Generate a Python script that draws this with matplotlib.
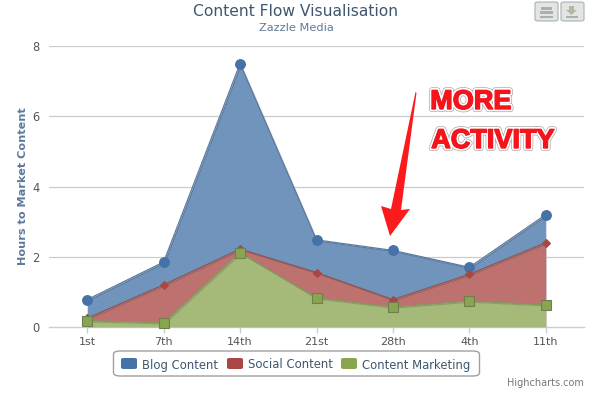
import matplotlib
matplotlib.use("Agg")
import matplotlib.pyplot as plt
import matplotlib.patheffects as pe
from matplotlib.patches import FancyBboxPatch, Polygon, Rectangle

categories = ["1st", "7th", "14th", "21st", "28th", "4th", "11th"]
blog = [0.78, 1.85, 7.5, 2.48, 2.18, 1.70, 3.2]
social = [0.25, 1.2, 2.22, 1.55, 0.78, 1.5, 2.4]
content = [0.18, 0.12, 2.12, 0.83, 0.57, 0.74, 0.63]
series_names = ["Blog Content", "Social Content", "Content Marketing"]
yticks = [0, 2, 4, 6, 8]

W, H = 593, 393
plt.rcParams["font.family"] = ["DejaVu Sans"]
fig = plt.figure(figsize=(W / 100, H / 100), dpi=100, facecolor="white")
L, R, T, B = 49, 584, 46, 327
ax = fig.add_axes([L / W, 1 - B / H, (R - L) / W, (B - T) / H])
ax.set_xlim(-0.5, 6.5)
ax.set_ylim(0, 8)
x = list(range(len(categories)))

for v in yticks[1:]:
    ax.axhline(v, color="#cccccc", lw=0.9, zorder=1)

styles = [
    (blog, "#4572A7", "#5d7a9e", "o", 7),
    (social, "#AA4643", "#8c5452", "D", 4.5),
    (content, "#89A54E", "#84965f", "s", 7),
]
shadow = [pe.SimpleLineShadow(offset=(0.8, -0.8), shadow_color="black", alpha=0.15), pe.Normal()]
for i, (vals, col, edge, m, ms) in enumerate(styles):
    ax.fill_between(x, 0, vals, color="white", lw=0, zorder=2 + i)
    ax.fill_between(x, 0, vals, color=col, alpha=0.76, lw=0, zorder=2 + i)
    ax.plot(x, vals, color=edge, lw=0.9, zorder=2.5 + i, path_effects=shadow)
for i, (vals, col, edge, m, ms) in enumerate(styles):
    ax.plot(x, vals, ls="none", marker=m, ms=ms, mfc=col, mec="#6f7f50" if m == "s" else col,
            mew=0.8, zorder=8 + i, clip_on=False)

for s in ["top", "left", "right"]:
    ax.spines[s].set_visible(False)
ax.spines["bottom"].set_color("#C0D0E0")
ax.spines["bottom"].set_linewidth(1.0)
ax.set_xticks(x, categories)
ax.set_yticks(yticks)
ax.tick_params(axis="x", colors="#C0D0E0", length=4, width=1, labelcolor="#555555", labelsize=8, pad=3)
ax.tick_params(axis="y", length=0, labelcolor="#555555", labelsize=8.3, pad=7)
ax.set_ylabel("Hours to Market Content", fontsize=8.1, fontweight="bold", color="#5d7a9c", labelpad=3)


def px(xp, yp):
    return xp / W, 1 - yp / H


fig.text(*px(296, 11), "Content Flow Visualisation", ha="center", va="center", fontsize=11.2, color="#3E576F")
fig.text(*px(296, 28), "Zazzle Media", ha="center", va="center", fontsize=8.2, color="#5f7a95")
fig.text(*px(584, 383), "Highcharts.com", ha="right", va="center", fontsize=7, color="#777777")

# legend box
fig.add_artist(FancyBboxPatch(px(113.5, 376), 366 / W, 25 / H, boxstyle="round,pad=0,rounding_size=0.012",
                              transform=fig.transFigure, fc="white", ec="#a0a0a0", lw=1, mutation_aspect=H / W))
for sx, lx, name, st in zip([121, 227, 341], [142, 248, 362], series_names, styles):
    fig.add_artist(FancyBboxPatch(px(sx, 369), 16 / W, 11 / H, boxstyle="round,pad=0,rounding_size=0.005",
                                  transform=fig.transFigure, fc=st[1], ec="none", mutation_aspect=H / W))
    fig.text(*px(lx, 365), name, ha="left", va="center", fontsize=8.4, color="#3E576F")

# export buttons
for bx, glyph in [(535, "print"), (561, "save")]:
    fig.add_artist(FancyBboxPatch(px(bx, 21), 23 / W, 19 / H, boxstyle="round,pad=0,rounding_size=0.006",
                                  transform=fig.transFigure, fc="#e2e5e4", ec="#aab1b1", lw=0.8, mutation_aspect=H / W))
    col = "#a9b1ac"
    if glyph == "print":
        fig.add_artist(Rectangle(px(541, 10), 11 / W, 3 / H, transform=fig.transFigure, fc=col, ec="none"))
        fig.add_artist(Rectangle(px(540, 14), 13 / W, 2.5 / H, transform=fig.transFigure, fc=col, ec="none"))
        fig.add_artist(Rectangle(px(540, 18), 13 / W, 2 / H, transform=fig.transFigure, fc=col, ec="none"))
    else:
        fig.add_artist(Polygon([px(569, 6), px(574, 6), px(574, 10), px(577, 10), px(571.5, 15), px(566, 10), px(569, 10)],
                               transform=fig.transFigure, fc="#b3b89f", ec="none"))
        fig.add_artist(Rectangle(px(566, 18), 12 / W, 2 / H, transform=fig.transFigure, fc=col, ec="none"))

# annotation arrow
arrow = Polygon([px(415.5, 92), px(416.5, 93), px(401, 210), px(410, 209), px(390, 236), px(381, 206), px(391, 209)],
                transform=fig.transFigure, fc="#fb1a1c", ec="none", zorder=20)
fig.add_artist(arrow)
effects = [pe.withStroke(linewidth=4.4, foreground="#a8a8a8"), pe.withStroke(linewidth=3.4, foreground="white"),
           pe.withStroke(linewidth=1.0, foreground="#f5141c"), pe.Normal()]
fig.text(*px(471, 102), "MORE", ha="center", va="center", fontsize=19.5, fontweight="bold", color="#f5141c",
         fontfamily="Liberation Sans", path_effects=effects, zorder=21)
fig.text(*px(493, 141), "ACTIVITY", ha="center", va="center", fontsize=19.5, fontweight="bold", color="#f5141c",
         fontfamily="Liberation Sans", path_effects=effects, zorder=21)

fig.savefig("out.png", dpi=100)
